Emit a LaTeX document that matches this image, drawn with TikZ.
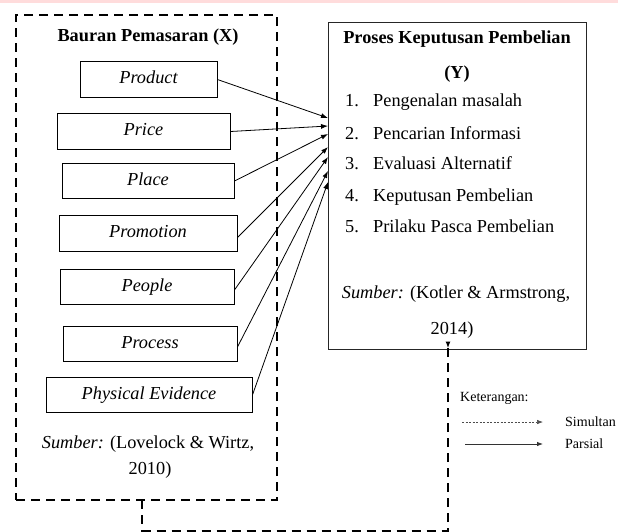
\documentclass[tikz,border=0pt]{standalone}
\usepackage{fontspec}
\setmainfont{Liberation Serif}
\usetikzlibrary{arrows.meta}
\begin{document}
\begin{tikzpicture}[x=1pt,y=-1pt,
  every node/.style={inner sep=0pt, font=\fontsize{18.3}{22}\selectfont},
  fbox/.style={draw=black, line width=0.9pt, minimum height=35.5pt, text height=12pt, text depth=4pt, font=\fontsize{18.3}{22}\selectfont\itshape},
  dbox/.style={draw=black, line width=2pt, dash pattern=on 9pt off 6pt},
  dline/.style={draw=black, line width=2pt, dash pattern=on 9pt off 6pt},
  ybox/.style={draw=black!85, line width=1pt},
  arr/.style={-{Latex[length=7pt,width=5pt]}, line width=0.8pt},
  legtext/.style={font=\fontsize{14}{16}\selectfont, anchor=base west},
  txt/.style={anchor=base},
  item/.style={anchor=base west}]
\useasboundingbox (0,0) rectangle (618,531);
\fill[red!40!pink!25] (0,0) rectangle (618,3);

% left dashed box
\node[dbox, minimum width=261pt, minimum height=485pt] (xbox) at (146.5,257.5) {};
\node[txt, font=\fontsize{18.3}{22}\selectfont\bfseries] (xtitle) at (148,41) {Bauran Pemasaran (X)};

\node[fbox, minimum width=137pt] (prod) at (148.5,79.5) {Product};
\node[fbox, minimum width=173pt] (price) at (143.5,131.5) {Price};
\node[fbox, minimum width=172pt] (place) at (148,181) {Place};
\node[fbox, minimum width=178pt] (promo) at (148,233.5) {Promotion};
\node[fbox, minimum width=174pt] (people) at (147,287) {People};
\node[fbox, minimum width=174pt] (process) at (150,344) {Process};
\node[fbox, minimum width=206pt] (phys) at (149,395) {Physical Evidence};

\node[txt] (xsrc1) at (148,448) {\textit{Sumber:} (Lovelock \& Wirtz,};
\node[txt] (xsrc2) at (150,474) {2010)};

% right box
\node[ybox, minimum width=258pt, minimum height=327pt] (ybox) at (457,185.5) {};
\node[txt, font=\fontsize{18.3}{22}\selectfont\bfseries] (ytitle) at (457,43) {Proses Keputusan Pembelian};
\node[txt, font=\fontsize{18.3}{22}\selectfont\bfseries] (ytitle2) at (457,78) {(Y)};
\node[item] (n1) at (345,106) {1.};
\node[item] (i1) at (373,106) {Pengenalan masalah};
\node[item] (n2) at (345,139) {2.};
\node[item] (i2) at (373,139) {Pencarian Informasi};
\node[item] (n3) at (345,169.5) {3.};
\node[item] (i3) at (373,169.5) {Evaluasi Alternatif};
\node[item] (n4) at (345,201) {4.};
\node[item] (i4) at (373,201) {Keputusan Pembelian};
\node[item] (n5) at (345,232.5) {5.};
\node[item] (i5) at (373,232.5) {Prilaku Pasca Pembelian};
\node[txt] (ysrc1) at (456,298) {\textit{Sumber:} (Kotler \& Armstrong,};
\node[txt] (ysrc2) at (452,334) {2014)};

% partial arrows
\coordinate (t1) at (328,118);
\coordinate (t2) at (328,126);
\coordinate (t3) at (328,134);
\coordinate (t4) at (328,147);
\coordinate (t5) at (328,157);
\coordinate (t6) at (328,171);
\coordinate (t7) at (328,182);
\draw[arr] (prod.east) -- (t1);
\draw[arr] (price.east) -- (t2);
\draw[arr] (place.east) -- (t3);
\draw[arr] ([yshift=-4pt]promo.east) -- (t4);
\draw[arr] ([yshift=-3pt]people.east) -- (t5);
\draw[arr] ([yshift=-3pt]process.east) -- (t6);
\draw[arr] (phys.east) -- (t7);

% simultaneous connector
\coordinate (b1) at (142,500);
\coordinate (b2) at (142,530.5);
\coordinate (b3) at (448,530.5);
\draw[dline] (b1) -- (b2) -- (b3) -- ([yshift=6pt]ybox.south -| b3);
\draw[-{Latex[length=7pt,width=5pt]}, line width=1.5pt] ([yshift=8pt]ybox.south -| b3) -- ([yshift=1pt]ybox.south -| b3);

% legend
\node[legtext] (ket) at (460,401.5) {Keterangan:};
\coordinate (s1) at (462,422);
\coordinate (s2) at (543,422);
\coordinate (p1) at (465,444);
\coordinate (p2) at (543,444);
\draw[-{Latex[length=6pt,width=4.5pt]}, line width=0.6pt, black!70, dash pattern=on 2pt off 1.5pt] (s1) -- (s2);
\draw[-{Latex[length=6pt,width=4.5pt]}, line width=0.8pt, black!80] (p1) -- (p2);
\node[legtext] (sim) at (565,426.5) {Simultan};
\node[legtext] (par) at (565,448.5) {Parsial};
\end{tikzpicture}
\end{document}
